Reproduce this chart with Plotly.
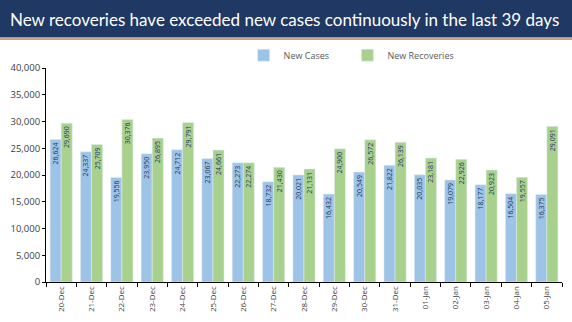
import plotly.graph_objects as go

dates = ["20-Dec", "21-Dec", "22-Dec", "23-Dec", "24-Dec", "25-Dec", "26-Dec", "27-Dec", "28-Dec",
         "29-Dec", "30-Dec", "31-Dec", "01-Jan", "02-Jan", "03-Jan", "04-Jan", "05-Jan"]
new_cases = [26624, 24337, 19556, 23950, 24712, 23067, 22273, 18732, 20021,
             16432, 20549, 21822, 20035, 19079, 18177, 16504, 16375]
new_recoveries = [29690, 25709, 30376, 26895, 29791, 24661, 22274, 21430, 21131,
                  24900, 26572, 26139, 23181, 22926, 20923, 19557, 29091]

title_text = "New recoveries have exceeded new cases continuously in the last 39 days"

W, H = 572, 322
ml, mr, mt, mb = 45, 10, 68, 37
ph = H - mt - mb
pw = W - ml - mr

def py(pix):
    return 1 + (mt - pix) / ph

def px(pix):
    return (pix - ml) / pw

fig = go.Figure()
label_font = dict(family="Open Sans", size=7, color="#1F3864")
fig.add_trace(go.Bar(name="New Cases", x=dates, y=new_cases, marker_color="#9DC3E6",
                     text=[f"{v:,}" for v in new_cases], textposition="inside",
                     insidetextanchor="end", textangle=-90, textfont=label_font,
                     legend="legend", showlegend=True))
fig.add_trace(go.Bar(name="New Recoveries", x=dates, y=new_recoveries, marker_color="#A9D18E",
                     text=[f"{v:,}" for v in new_recoveries], textposition="inside",
                     insidetextanchor="end", textangle=-90, textfont=label_font,
                     legend="legend2", showlegend=True))

leg_common = dict(orientation="h", y=py(55), xanchor="left", yanchor="middle", visible=True,
                  font=dict(size=9, color="#595959"), bgcolor="rgba(0,0,0,0)", itemwidth=30)

fig.update_layout(
    width=W, height=H,
    margin=dict(l=ml, r=mr, t=mt, b=mb),
    paper_bgcolor="white", plot_bgcolor="white",
    showlegend=True,
    barmode="group", bargap=0.27, bargroupgap=0.0,
    uniformtext=dict(minsize=6, mode="show"),
    font=dict(family="Open Sans", color="#404040"),
    legend=dict(x=px(243), **leg_common),
    legend2=dict(x=px(347), **leg_common),
    shapes=[
        dict(type="rect", xref="paper", yref="paper", x0=px(-10), x1=px(W + 10),
             y0=py(37), y1=py(-5), fillcolor="#1F3864", line_width=0, layer="above"),
        dict(type="rect", xref="paper", yref="paper", x0=px(-10), x1=px(W + 10),
             y0=py(39.5), y1=py(37), fillcolor="#C9A28A", line_width=0, layer="above"),
    ],
    annotations=[
        dict(text=title_text, xref="paper", yref="paper", x=px(7), y=py(19),
             xanchor="left", yanchor="middle", showarrow=False,
             font=dict(family="Lato", size=17, color="white")),
    ],
)
fig.update_xaxes(type="category", showline=True, linecolor="#000000", linewidth=1,
                 ticks="outside", tickson="boundaries", ticklen=4, tickcolor="#000000",
                 tickangle=-90, tickfont=dict(size=8, color="#404040"), showgrid=False)
fig.update_yaxes(range=[0, 40000], dtick=5000, tickformat=",", showline=True,
                 linecolor="#000000", linewidth=1, ticks="outside", ticklen=3,
                 tickcolor="#000000", tickfont=dict(size=9.5, color="#404040"),
                 showgrid=False, zeroline=False)

fig.write_html("out.html")
